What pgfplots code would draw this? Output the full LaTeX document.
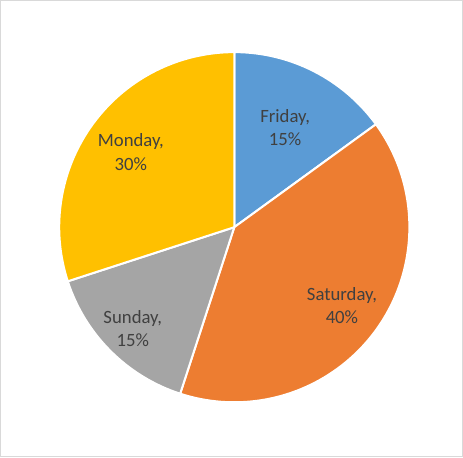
\documentclass[border=0pt]{standalone}
\usepackage{pgfplots}
\pgfplotsset{compat=1.18}
\usepackage{pgfplotstable}
\usepackage{fontspec}
\setmainfont{Carlito}

\definecolor{slice0}{HTML}{5B9BD5}
\definecolor{slice1}{HTML}{ED7D31}
\definecolor{slice2}{HTML}{A5A5A5}
\definecolor{slice3}{HTML}{FFC000}
\definecolor{lbl}{HTML}{404040}
\definecolor{frame}{HTML}{D9D9D9}
\newcommand\lblfont{\fontsize{18.5bp}{23bp}\selectfont}

% share in percent, label distance as fraction of radius
\pgfplotstableread{
day      value dist
Friday   15    0.64
Saturday 40    0.76
Sunday   15    0.82
Monday   30    0.73
}\piedata

\begin{document}
\begin{tikzpicture}
% cumulative angles, clockwise from 12 o'clock
\pgfplotstablegetrowsof{\piedata}
\pgfmathtruncatemacro\lastrow{\pgfplotsretval-1}
\xdef\acc{90}
\pgfplotsforeachungrouped \i in {0,...,\lastrow}{%
  \pgfplotstablegetelem{\i}{value}\of\piedata
  \let\val\pgfplotsretval
  \pgfmathsetmacro\stopang{\acc-3.6*\val}%
  \pgfmathsetmacro\midang{(\acc+\stopang)/2}%
  \expandafter\xdef\csname sa\i\endcsname{\acc}%
  \expandafter\xdef\csname ea\i\endcsname{\stopang}%
  \expandafter\xdef\csname ma\i\endcsname{\midang}%
  \pgfmathtruncatemacro\pcval{\val}%
  \expandafter\xdef\csname va\i\endcsname{\pcval}%
  \pgfplotstablegetelem{\i}{dist}\of\piedata
  \expandafter\xdef\csname di\i\endcsname{\pgfplotsretval}%
  \pgfplotstablegetelem{\i}{day}\of\piedata
  \expandafter\xdef\csname dy\i\endcsname{\pgfplotsretval}%
  \xdef\acc{\stopang}%
}
\begin{axis}[
    hide axis,
    scale only axis,
    width=463bp, height=453bp,
    xmin=0, xmax=463,
    ymin=0, ymax=453,
    clip=false,
]
\draw[frame, line width=1bp] (axis cs:5,1) rectangle (axis cs:461.5,452);
\pgfplotsinvokeforeach{0,...,3}{%
  \edef\temp{%
    \noexpand\fill[slice#1, draw=white, line width=2bp, line join=round]
      (axis cs:236,228) -- ++(\csname sa#1\endcsname:173bp)
      arc[start angle=\csname sa#1\endcsname, end angle=\csname ea#1\endcsname, radius=173bp] -- cycle;
  }\temp
}
\pgfplotsinvokeforeach{0,...,3}{%
  \edef\temp{%
    \noexpand\path (axis cs:236,228) ++(\csname ma#1\endcsname:\csname di#1\endcsname*173bp)
      node[align=center, text=lbl, font=\noexpand\lblfont]
      {\csname dy#1\endcsname,\noexpand\\\csname va#1\endcsname\noexpand\%};
  }\temp
}
\end{axis}
\end{tikzpicture}
\end{document}
